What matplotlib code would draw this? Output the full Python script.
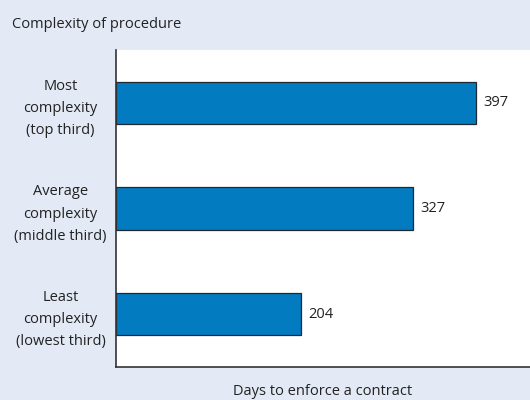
import matplotlib

matplotlib.use("Agg")

import matplotlib.pyplot as plt

# Days to enforce a contract, by complexity of procedure
categories = [
    "Least\ncomplexity\n(lowest third)",
    "Average\ncomplexity\n(middle third)",
    "Most\ncomplexity\n(top third)",
]
days = [204, 327, 397]

BG = "#e3eaf5"
BAR = "#037bc1"

plt.rcParams["font.family"] = ["Open Sans", "DejaVu Sans"]
fs = 10.5

fig = plt.figure(figsize=(5.3, 4.0), dpi=100)
fig.patch.set_facecolor(BG)
ax = fig.add_axes([116 / 530, 33 / 400, 1 - 116 / 530, 317 / 400])
ax.set_facecolor("white")

ypos = range(len(categories))
ax.barh(ypos, days, height=0.4, color=BAR, edgecolor="#1e2a33", linewidth=0.9)
for y, v in zip(ypos, days):
    ax.text(v + 8, y, f"{v}", va="center", ha="left", fontsize=fs, color="#222222")

ax.set_xlim(0, 456)
ax.set_ylim(-0.5, 2.5)
ax.set_xticks([])
ax.set_yticks(list(ypos))
ax.set_yticklabels(categories, fontsize=fs, color="#222222", ha="center",
                   linespacing=1.65)
ax.tick_params(axis="y", length=0, pad=40)

for side in ("top", "right"):
    ax.spines[side].set_visible(False)
for side in ("left", "bottom"):
    ax.spines[side].set_color("#333333")
    ax.spines[side].set_linewidth(1.2)

ax.set_xlabel("Days to enforce a contract", fontsize=fs, color="#222222", labelpad=12)
fig.text(12 / 530, 1 - 25 / 400, "Complexity of procedure", fontsize=fs,
         color="#222222", va="center", ha="left")

fig.savefig("out.png", dpi=100, facecolor=BG)
